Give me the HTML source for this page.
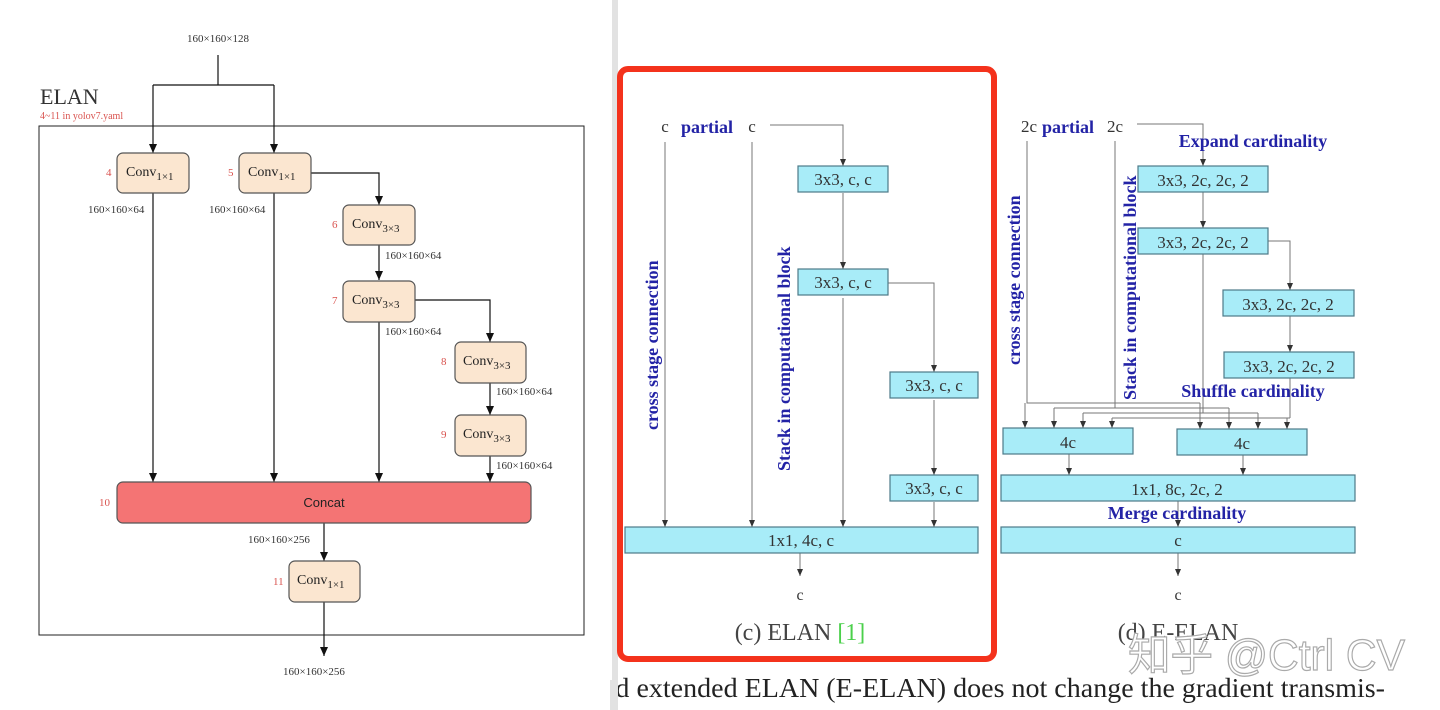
<!DOCTYPE html>
<html><head><meta charset="utf-8"><style>
html,body{margin:0;padding:0;background:#fff;}
svg{display:block}
</style></head><body>
<svg width="1440" height="710" viewBox="0 0 1440 710" xmlns="http://www.w3.org/2000/svg">
<defs>
<marker id="a" markerWidth="10" markerHeight="10" refX="9" refY="5" orient="auto" markerUnits="userSpaceOnUse"><path d="M0,1 L9,5 L0,9 Z" fill="#111"/></marker>
<marker id="b" markerWidth="8" markerHeight="8" refX="7" refY="4" orient="auto" markerUnits="userSpaceOnUse"><path d="M0,1 L7,4 L0,7 Z" fill="#333"/></marker>
</defs>
<rect x="0" y="0" width="1440" height="710" fill="#fff"/>
<rect x="612" y="0" width="6" height="710" fill="#e2e2e2"/>

<!-- LEFT PANEL -->
<g font-family="Liberation Serif, serif" fill="#333">
<text x="218" y="42" font-size="11" text-anchor="middle">160×160×128</text>
<text x="40" y="104" font-size="22">ELAN</text>
<text x="40" y="119" font-size="10" fill="#d9534f">4~11 in yolov7.yaml</text>
</g>
<rect x="39" y="126" width="545" height="509" fill="none" stroke="#222" stroke-width="1"/>
<g stroke="#111" stroke-width="1.2" fill="none">
<path d="M218,55 V85"/>
<path d="M153,85 H274"/>
<path d="M153,85 V153" marker-end="url(#a)"/>
<path d="M274,85 V153" marker-end="url(#a)"/>
<path d="M311,173 H379 V205" marker-end="url(#a)"/>
<path d="M379,245 V280" marker-end="url(#a)"/>
<path d="M415,300 H490 V342" marker-end="url(#a)"/>
<path d="M490,383 V415" marker-end="url(#a)"/>
<path d="M153,193 V482" marker-end="url(#a)"/>
<path d="M274,193 V482" marker-end="url(#a)"/>
<path d="M379,322 V482" marker-end="url(#a)"/>
<path d="M490,456 V482" marker-end="url(#a)"/>
<path d="M324,523 V561" marker-end="url(#a)"/>
<path d="M324,602 V656" marker-end="url(#a)"/>
</g>
<g fill="#fbe6d0" stroke="#555" stroke-width="1.2">
<rect x="117" y="153" width="72" height="40" rx="6"/>
<rect x="239" y="153" width="72" height="40" rx="6"/>
<rect x="343" y="205" width="72" height="40" rx="6"/>
<rect x="343" y="281" width="72" height="41" rx="6"/>
<rect x="455" y="342" width="71" height="41" rx="6"/>
<rect x="455" y="415" width="71" height="41" rx="6"/>
<rect x="289" y="561" width="71" height="41" rx="6"/>
</g>
<rect x="117" y="482" width="414" height="41" rx="6" fill="#f47474" stroke="#555" stroke-width="1.2"/>
<g font-family="Liberation Serif, serif" fill="#222" font-size="14">
<text x="126" y="176">Conv<tspan font-size="11" dy="4">1×1</tspan></text>
<text x="248" y="176">Conv<tspan font-size="11" dy="4">1×1</tspan></text>
<text x="352" y="228">Conv<tspan font-size="11" dy="4">3×3</tspan></text>
<text x="352" y="304">Conv<tspan font-size="11" dy="4">3×3</tspan></text>
<text x="463" y="365">Conv<tspan font-size="11" dy="4">3×3</tspan></text>
<text x="463" y="438">Conv<tspan font-size="11" dy="4">3×3</tspan></text>
<text x="297" y="584">Conv<tspan font-size="11" dy="4">1×1</tspan></text>
<text x="324" y="507" text-anchor="middle" font-family="Liberation Sans, sans-serif" font-size="13">Concat</text>
</g>
<g font-family="Liberation Serif, serif" fill="#d9534f" font-size="11">
<text x="106" y="176">4</text><text x="228" y="176">5</text><text x="332" y="228">6</text>
<text x="332" y="304">7</text><text x="441" y="365">8</text><text x="441" y="438">9</text>
<text x="99" y="506">10</text><text x="273" y="585">11</text>
</g>
<g font-family="Liberation Serif, serif" fill="#333" font-size="11">
<text x="88" y="213">160×160×64</text>
<text x="209" y="213">160×160×64</text>
<text x="385" y="259">160×160×64</text>
<text x="385" y="335">160×160×64</text>
<text x="496" y="395">160×160×64</text>
<text x="496" y="469">160×160×64</text>
<text x="248" y="543">160×160×256</text>
<text x="283" y="675">160×160×256</text>
</g>

<!-- RIGHT PANEL (c) -->
<rect x="620" y="69" width="374" height="590" rx="8" fill="none" stroke="#f4321c" stroke-width="6"/>
<g stroke="#777" stroke-width="1" fill="none">
<path d="M770,125 H843 V166" marker-end="url(#b)"/>
<path d="M843,193 V269" marker-end="url(#b)"/>
<path d="M888,283 H934 V372" marker-end="url(#b)"/>
<path d="M934,400 V475" marker-end="url(#b)"/>
<path d="M665,142 V527" marker-end="url(#b)"/>
<path d="M752,142 V527" marker-end="url(#b)"/>
<path d="M843,298 V527" marker-end="url(#b)"/>
<path d="M934,502 V527" marker-end="url(#b)"/>
<path d="M800,553 V576" marker-end="url(#b)"/>
</g>
<g fill="#a8ecf8" stroke="#4d7a88" stroke-width="1.2">
<rect x="798" y="166" width="90" height="26"/>
<rect x="798" y="269" width="90" height="26"/>
<rect x="890" y="372" width="88" height="26"/>
<rect x="890" y="475" width="88" height="26"/>
<rect x="625" y="527" width="353" height="26"/>
</g>
<g font-family="Liberation Serif, serif" fill="#333" font-size="17" text-anchor="middle">
<text x="843" y="185">3x3, c, c</text>
<text x="843" y="288">3x3, c, c</text>
<text x="934" y="391">3x3, c, c</text>
<text x="934" y="494">3x3, c, c</text>
<text x="801" y="546">1x1, 4c, c</text>
<text x="800" y="600" font-size="16">c</text>
<text x="665" y="132" font-size="17">c</text>
<text x="752" y="132" font-size="17">c</text>
<text x="800" y="640" font-size="24" fill="#444">(c) ELAN <tspan fill="#4bd04b">[1]</tspan></text>
</g>
<g font-family="Liberation Serif, serif" fill="#2323a6" font-weight="bold" font-size="18">
<text x="681" y="133">partial</text>
<text transform="translate(658,430) rotate(-90)">cross stage connection</text>
<text transform="translate(790,471) rotate(-90)">Stack in computational block</text>
</g>

<!-- RIGHT PANEL (d) -->
<g stroke="#777" stroke-width="1" fill="none">
<path d="M1137,124 H1203 V166" marker-end="url(#b)"/>
<path d="M1203,192 V228" marker-end="url(#b)"/>
<path d="M1268,241 H1290 V290" marker-end="url(#b)"/>
<path d="M1290,316 V352" marker-end="url(#b)"/>
<path d="M1027,141 V403 H1200"/>
<path d="M1115,141 V408"/>
<path d="M1054,408 H1229"/>
<path d="M1203,254 V413"/>
<path d="M1083,413 H1258"/>
<path d="M1290,378 V418"/>
<path d="M1112,418 H1290"/>
<path d="M1025,403 V428" marker-end="url(#b)"/>
<path d="M1054,408 V428" marker-end="url(#b)"/>
<path d="M1083,413 V428" marker-end="url(#b)"/>
<path d="M1112,418 V428" marker-end="url(#b)"/>
<path d="M1200,403 V429" marker-end="url(#b)"/>
<path d="M1229,408 V429" marker-end="url(#b)"/>
<path d="M1258,413 V429" marker-end="url(#b)"/>
<path d="M1287,418 V429" marker-end="url(#b)"/>
<path d="M1069,454 V475" marker-end="url(#b)"/>
<path d="M1243,455 V475" marker-end="url(#b)"/>
<path d="M1178,501 V527" marker-end="url(#b)"/>
<path d="M1178,553 V576" marker-end="url(#b)"/>
</g>
<g fill="#a8ecf8" stroke="#4d7a88" stroke-width="1.2">
<rect x="1138" y="166" width="130" height="26"/>
<rect x="1138" y="228" width="130" height="26"/>
<rect x="1223" y="290" width="131" height="26"/>
<rect x="1224" y="352" width="130" height="26"/>
<rect x="1003" y="428" width="130" height="26"/>
<rect x="1177" y="429" width="130" height="26"/>
<rect x="1001" y="475" width="354" height="26"/>
<rect x="1001" y="527" width="354" height="26"/>
</g>
<g font-family="Liberation Serif, serif" fill="#333" font-size="17" text-anchor="middle">
<text x="1203" y="186">3x3, 2c, 2c, 2</text>
<text x="1203" y="248">3x3, 2c, 2c, 2</text>
<text x="1288" y="310">3x3, 2c, 2c, 2</text>
<text x="1289" y="372">3x3, 2c, 2c, 2</text>
<text x="1068" y="448">4c</text>
<text x="1242" y="449">4c</text>
<text x="1177" y="495">1x1, 8c, 2c, 2</text>
<text x="1178" y="546">c</text>
<text x="1178" y="600" font-size="16">c</text>
<text x="1029" y="132">2c</text>
<text x="1115" y="132">2c</text>
<text x="1178" y="640" font-size="24" fill="#444">(d) E-ELAN</text>
</g>
<g font-family="Liberation Serif, serif" fill="#2323a6" font-weight="bold" font-size="18">
<text x="1042" y="133">partial</text>
<text x="1253" y="147" text-anchor="middle">Expand cardinality</text>
<text x="1253" y="397" text-anchor="middle">Shuffle cardinality</text>
<text x="1177" y="519" text-anchor="middle">Merge cardinality</text>
<text transform="translate(1020,365) rotate(-90)">cross stage connection</text>
<text transform="translate(1136,400) rotate(-90)">Stack in computational block</text>
</g>
<text x="1128" y="670" textLength="277" lengthAdjust="spacingAndGlyphs" font-family="Liberation Sans, 'Noto Sans CJK SC', sans-serif" font-size="44" fill="#fff" stroke="#aaa" stroke-width="1.2">知乎 @Ctrl CV</text>
<text x="603" y="697" textLength="782" lengthAdjust="spacingAndGlyphs" font-family="Liberation Serif, serif" font-size="27" fill="#222">ed extended ELAN (E-ELAN) does not change the gradient transmis-</text>
<rect x="0" y="680" width="610" height="30" fill="#fff"/>
<rect x="610" y="680" width="8" height="30" fill="#e2e2e2"/>
</svg>
</body></html>
